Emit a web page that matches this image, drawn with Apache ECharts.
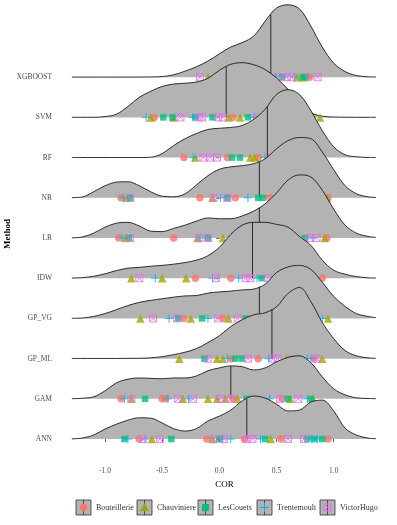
<!DOCTYPE html>
<html>
<head>
<meta charset="utf-8">
<script src="https://cdn.jsdelivr.net/npm/echarts@6/dist/echarts.min.js"></script>
<style>
  html, body { margin: 0; padding: 0; background: #fff; }
  #chart { width: 397px; height: 525px; }
</style>
</head>
<body>
<div id="chart"></div>
<script>
// methods from bottom (row 0) to top (row 9)
const methods = ['ANN', 'GAM', 'GP_ML', 'GP_VG', 'IDW', 'LR', 'NR', 'RF', 'SVM', 'XGBOOST']
const stations = ['Bouteillerie', 'Chauviniere', 'LesCouets', 'Trentemoult', 'VictorHugo']
const xTicks = [-1.0, -0.5, 0.0, 0.5, 1.0]

// COR values where the ridge heights were read
const corGrid = [-1.29, -1.2, -1.1, -1.0, -0.9, -0.8, -0.7, -0.6, -0.5, -0.4, -0.3, -0.2, -0.1, 0,
  0.1, 0.2, 0.3, 0.4, 0.5, 0.6, 0.7, 0.8, 0.9, 1.0, 1.1, 1.2, 1.3, 1.37]

// scaled density heights (in row units)
const densXGBOOST = [.003, .003, .003, .003, .003, .003, .004, .006, .015, .06, .15, .26, .40, .58, .75, .86, 1.02, 1.39, 1.72, 1.80, 1.70, 1.27, .75, .35, .14, .04, .01, .005]
const densSVM = [.003, .003, .003, .02, .08, .27, .50, .65, .77, .83, .85, .88, .97, 1.17, 1.32, 1.36, 1.31, 1.19, .98, .70, .40, .12, .03, .01, .005, .003, .003, .003]
const densRF = [.003, .003, .003, .003, .003, .003, .003, .01, .10, .30, .47, .60, .70, .73, .75, .80, .95, 1.2, 1.57, 1.69, 1.57, 1.17, .67, .27, .07, .02, .005, .003]
const densNR = [.005, .02, .15, .30, .39, .40, .30, .15, .04, .025, .10, .32, .55, .71, .77, .80, .85, .97, 1.22, 1.42, 1.50, 1.47, 1.14, .70, .30, .10, .025, .01]
const densLR = [.005, .025, .12, .27, .37, .39, .30, .17, .16, .24, .32, .42, .50, .48, .48, .55, .67, .85, 1.12, 1.44, 1.57, 1.52, 1.19, .72, .32, .12, .04, .015]
const densIDW = [.005, .015, .05, .11, .19, .25, .27, .30, .32, .35, .39, .45, .56, .77, 1.09, 1.32, 1.39, 1.39, 1.34, 1.27, 1.04, .82, .45, .20, .10, .04, .01, .005]
const densGP_VG = [.005, .01, .05, .12, .22, .32, .40, .45, .49, .53, .56, .57, .63, .66, .68, .71, .73, .85, 1.14, 1.28, 1.32, 1.22, .90, .55, .30, .12, .05, .02]
const densGP_ML = [.005, .005, .005, .005, .005, .008, .01, .02, .05, .10, .16, .25, .40, .57, .80, .97, 1.09, 1.14, 1.29, 1.62, 1.77, 1.42, .90, .50, .20, .07, .02, .01]
const densGAM = [.005, .015, .05, .20, .40, .49, .52, .51, .50, .52, .52, .57, .70, .77, .82, .80, .72, .77, .92, 1.03, 1.07, .90, .55, .25, .10, .025, .01, .005]
const densANN = [.005, .025, .10, .25, .37, .47, .53, .52, .40, .26, .20, .26, .45, .57, .72, .95, 1.07, 1.02, .87, .70, .72, .92, .97, .70, .27, .10, .025, .01]

// median COR per method (same order as methods)
const medians = [0.24, 0.10, 0.46, 0.35, 0.29, 0.35, 0.35, 0.42, 0.06, 0.45]

// COR of each station, per method
const ptsXGBOOST = {
  Bouteillerie: [0.35, 0.75, 0.79],
  Chauviniere: [-0.10, 0.20, 0.68, 0.73],
  LesCouets: [0.44, 0.55, 0.73],
  Trentemoult: [0.49, 0.66, 0.77],
  VictorHugo: [-0.17, 0.53, 0.59, 0.63, 0.86],
}
const ptsSVM = {
  Bouteillerie: [-0.57, 0.12],
  Chauviniere: [-0.60, -0.40, 0.08, 0.18, 0.88],
  LesCouets: [-0.49, -0.41, -0.21, -0.06, 0.25],
  Trentemoult: [-0.64, -0.23, 0.30],
  VictorHugo: [-0.34, -0.18, -0.15, -0.01, 0.03, 0.33],
}
const ptsRF = {
  Bouteillerie: [-0.31, 0.07, 0.34, 0.60],
  Chauviniere: [-0.21, 0.27, 0.31, 0.55],
  LesCouets: [0.11, 0.18, 0.62],
  Trentemoult: [-0.23, 0.40, 0.50],
  VictorHugo: [-0.14, -0.08, -0.02, 0.46, 0.53],
}
const ptsNR = {
  Bouteillerie: [-0.86, -0.17, 0.14, 0.44, 0.95],
  Chauviniere: [-0.81, -0.06, 0.94],
  LesCouets: [-0.78, 0.07, 0.34, 0.38],
  Trentemoult: [-0.84, 0.01, 0.25],
  VictorHugo: [-0.78, -0.05, 0.07, 0.60],
}
const ptsLR = {
  Bouteillerie: [-0.88, -0.40, 0.55, 0.94],
  Chauviniere: [-0.82, -0.19, 0.03, 0.92],
  LesCouets: [-0.79, -0.10, 0.45, 0.75],
  Trentemoult: [-0.85, -0.17, 0.60, 0.82],
  VictorHugo: [-0.78, -0.18, -0.10, 0.79, 0.85],
}
const ptsIDW = {
  Bouteillerie: [-0.21, 0.10, 0.55, 0.90],
  Chauviniere: [-0.77, -0.50, -0.29, 0.62],
  LesCouets: [0.37, 0.50, 0.70],
  Trentemoult: [-0.56, -0.06, 0.17, 0.33],
  VictorHugo: [-0.70, -0.03, 0.23, 0.27, 0.43],
}
const ptsGP_VG = {
  Bouteillerie: [-0.31, 0.03, 0.30, 0.62],
  Chauviniere: [-0.69, -0.25, 0.08, 0.95],
  LesCouets: [-0.36, -0.15, 0.23],
  Trentemoult: [-0.44, -0.10, 0.90],
  VictorHugo: [-0.58, -0.37, -0.01, 0.16],
}
const ptsGP_ML = {
  Bouteillerie: [0.10, 0.34, 0.62, 0.83],
  Chauviniere: [-0.35, -0.02, 0.03, 0.59, 0.64, 0.70, 0.90],
  LesCouets: [-0.13, 0.14, 0.20, 0.68],
  Trentemoult: [0.07, 0.43, 0.77, 0.80],
  VictorHugo: [-0.10, 0.25, 0.47, 0.51, 0.85],
}
const ptsGAM = {
  Bouteillerie: [-0.86, -0.50, -0.47, 0.12, 0.55],
  Chauviniere: [-0.77, -0.32, -0.10, -0.02, 0.05, 0.16, 0.62, 0.82],
  LesCouets: [-0.65, 0.24, 0.60, 0.80],
  Trentemoult: [-0.83, -0.45, -0.27, 0.27, 0.44, 0.77],
  VictorHugo: [-0.77, -0.36, -0.23, 0.01, 0.10, 0.53, 0.69],
}
const ptsANN = {
  Bouteillerie: [-0.70, -0.11, 0.22, 0.54, 0.95],
  Chauviniere: [-0.59, -0.06, 0.45],
  LesCouets: [-0.83, -0.42, 0.0, 0.40, 0.77, 0.83, 0.90],
  Trentemoult: [-0.80, -0.65, 0.03, 0.10, 0.36, 0.81, 0.86],
  VictorHugo: [-0.67, -0.52, -0.05, 0.04, 0.24, 0.29, 0.60, 0.74],
}

const densities = {
  ANN: densANN, GAM: densGAM, GP_ML: densGP_ML, GP_VG: densGP_VG, IDW: densIDW,
  LR: densLR, NR: densNR, RF: densRF, SVM: densSVM, XGBOOST: densXGBOOST,
}
const points = {
  ANN: ptsANN, GAM: ptsGAM, GP_ML: ptsGP_ML, GP_VG: ptsGP_VG, IDW: ptsIDW,
  LR: ptsLR, NR: ptsNR, RF: ptsRF, SVM: ptsSVM, XGBOOST: ptsXGBOOST,
}

const FONT = 'Liberation Serif'
const RIDGE_FILL = '#b3b3b3'
const LINE = '#1a1a1a'

const stationStyle = {
  Bouteillerie: { symbol: 'circle', size: 7.5, color: '#F8766D', hollow: false },
  Chauviniere: { symbol: 'triangle', size: 8.5, color: '#A3A500', hollow: false },
  LesCouets: { symbol: 'rect', size: 6.5, color: '#00BF7D', hollow: false },
  Trentemoult: { symbol: 'path://M5,0L5,10M0,5L10,5', size: 8.5, color: '#00B0F6', hollow: true },
  VictorHugo: { symbol: 'path://M0,0L10,0L10,10L0,10ZM0,0L10,10M10,0L0,10', size: 7, color: '#E76BF3', hollow: true },
}

// height of a ridge at a given COR (for the top of the median line)
function heightAt(dens, x) {
  for (let j = 0; j < corGrid.length - 1; j++) {
    if (x >= corGrid[j] && x <= corGrid[j + 1]) {
      const t = (x - corGrid[j]) / (corGrid[j + 1] - corGrid[j])
      return dens[j] + t * (dens[j + 1] - dens[j])
    }
  }
  return 0
}

// top ridge first, so the lower ridges cover it; z grows with drawing order
const series = []
for (let r = methods.length - 1; r >= 0; r--) {
  const m = methods[r]
  const dens = densities[m]
  const zBase = (methods.length - r) * 3
  series.push({
    type: 'line',
    z: zBase,
    data: corGrid.map((x, j) => [x, r + dens[j]]),
    smooth: 0.35,
    symbol: 'none',
    lineStyle: { color: LINE, width: 0.9 },
    areaStyle: { color: RIDGE_FILL, opacity: 1, origin: r },
    silent: true,
  })
  series.push({
    type: 'line',
    z: zBase + 1,
    data: [[medians[r], r], [medians[r], r + heightAt(dens, medians[r])]],
    symbol: 'none',
    lineStyle: { color: LINE, width: 0.9 },
    silent: true,
  })
  stations.forEach(s => {
    const st = stationStyle[s]
    series.push({
      type: 'scatter',
      z: zBase + 2,
      name: s,
      data: points[m][s].map(v => [v, r]),
      symbol: st.symbol,
      symbolSize: st.size,
      itemStyle: st.hollow
        ? { color: 'rgba(0,0,0,0)', borderColor: st.color, borderWidth: 1 }
        : { color: st.color },
      silent: true,
    })
  })
}

// legend keys drawn like ggplot's
const keyX = [76, 137, 198, 257, 320]
const keyY = 500
const extraGraphic = []
stations.forEach((s, i) => {
  const st = stationStyle[s]
  const x0 = keyX[i]
  const cx = x0 + 7.5
  const cy = keyY + 7.5
  extraGraphic.push({ type: 'rect', shape: { x: x0, y: keyY, width: 15, height: 15 }, style: { fill: RIDGE_FILL, stroke: '#333', lineWidth: 0.8 } })
  extraGraphic.push({ type: 'line', shape: { x1: cx, y1: keyY, x2: cx, y2: keyY + 15 }, style: { stroke: '#333', lineWidth: 0.8 } })
  if (s === 'Bouteillerie') {
    extraGraphic.push({ type: 'circle', shape: { cx, cy, r: 3.8 }, style: { fill: st.color } })
  } else if (s === 'Chauviniere') {
    extraGraphic.push({ type: 'polygon', shape: { points: [[cx, cy - 4.5], [cx + 4.6, cy + 3.5], [cx - 4.6, cy + 3.5]] }, style: { fill: st.color } })
  } else if (s === 'LesCouets') {
    extraGraphic.push({ type: 'rect', shape: { x: cx - 3.5, y: cy - 3.5, width: 7, height: 7 }, style: { fill: st.color } })
  } else if (s === 'Trentemoult') {
    extraGraphic.push({ type: 'line', shape: { x1: cx - 4.5, y1: cy, x2: cx + 4.5, y2: cy }, style: { stroke: st.color, lineWidth: 1 } })
    extraGraphic.push({ type: 'line', shape: { x1: cx, y1: cy - 4.5, x2: cx, y2: cy + 4.5 }, style: { stroke: st.color, lineWidth: 1 } })
  } else {
    extraGraphic.push({ type: 'rect', shape: { x: cx - 3.5, y: cy - 3.5, width: 7, height: 7 }, style: { fill: 'none', stroke: st.color, lineWidth: 1 } })
    extraGraphic.push({ type: 'line', shape: { x1: cx - 3.5, y1: cy - 3.5, x2: cx + 3.5, y2: cy + 3.5 }, style: { stroke: st.color, lineWidth: 1 } })
    extraGraphic.push({ type: 'line', shape: { x1: cx + 3.5, y1: cy - 3.5, x2: cx - 3.5, y2: cy + 3.5 }, style: { stroke: st.color, lineWidth: 1 } })
  }
  extraGraphic.push({
    type: 'text', x: x0 + 20, y: cy,
    style: { text: s, fill: '#333', font: '8px "' + FONT + '"', verticalAlign: 'middle', textAlign: 'left' },
  })
})
// y axis title
extraGraphic.push({
  type: 'text', x: 8, y: 234, rotation: Math.PI / 2,
  style: { text: 'Method', fill: '#000', font: 'bold 9px "' + FONT + '"', textAlign: 'center', verticalAlign: 'middle' },
})

const option = {
  animation: false,
  backgroundColor: '#fff',
  grid: { left: 57, right: 5, top: 2, bottom: 63, containLabel: false, outerBoundsMode: 'none' },
  xAxis: {
    type: 'value',
    min: -1.42,
    max: 1.51,
    name: 'COR',
    nameLocation: 'middle',
    nameGap: 12,
    nameTextStyle: { fontFamily: FONT, fontSize: 9, color: '#000' },
    axisLine: { show: false },
    axisTick: { show: true, length: 3, customValues: xTicks, lineStyle: { color: '#333', width: 0.8 } },
    axisLabel: {
      customValues: xTicks,
      formatter: v => v.toFixed(1),
      fontFamily: FONT, fontSize: 7.5, color: '#4d4d4d', margin: 5,
    },
    splitLine: { show: false },
  },
  yAxis: {
    type: 'value',
    min: -0.57,
    max: 10.87,
    axisLine: { show: false },
    axisTick: { show: true, length: 3, customValues: methods.map((m, i) => i), lineStyle: { color: '#333', width: 0.8 } },
    axisLabel: {
      customValues: methods.map((m, i) => i),
      formatter: v => methods[Math.round(v)],
      fontFamily: FONT, fontSize: 7.5, color: '#4d4d4d', margin: 5,
    },
    splitLine: { show: false },
  },
  graphic: extraGraphic,
  series: series,
}

const chart = echarts.init(document.getElementById('chart'))
chart.setOption(option)
</script>
</body>
</html>
